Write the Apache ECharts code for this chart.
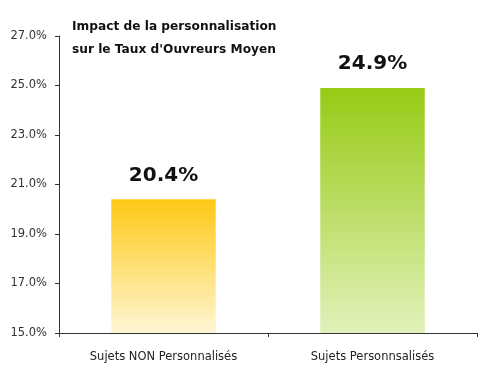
<!DOCTYPE html>
<html>
<head>
<meta charset="utf-8">
<script src="https://cdn.jsdelivr.net/npm/echarts@6/dist/echarts.min.js"></script>
<style>
  html, body { margin: 0; padding: 0; background: #fff; }
  #grafico { width: 498px; height: 376px; }
</style>
</head>
<body>
<div id="grafico"></div>
<script>
var categories = ['Sujets NON Personnalisés', 'Sujets Personnsalisés'];
var taux = [20.4, 24.9];
var topColors = ['#FFC814', '#97CB15'];
var bottomColors = ['#FFF6D6', '#E1F1BA'];

var chartDom = document.getElementById('grafico');
var myChart = echarts.init(chartDom);
var option;

var barData = taux.map(function (v, i) {
  return {
    value: v,
    itemStyle: {
      color: new echarts.graphic.LinearGradient(0, 0, 0, 1, [
        { offset: 0, color: topColors[i] },
        { offset: 1, color: bottomColors[i] }
      ])
    }
  };
});

option = {
  animation: false,
  title: {
    text: 'Impact de la personnalisation\nsur le Taux d\'Ouvreurs Moyen',
    left: 67,
    top: 10,
    textStyle: {
      fontFamily: 'DejaVu Sans',
      fontSize: 12.2,
      fontWeight: 'bold',
      color: '#111',
      lineHeight: 23
    }
  },
  grid: {
    left: 59,
    right: 21,
    top: 36,
    bottom: 43
  },
  xAxis: {
    type: 'category',
    data: categories,
    axisLine: { lineStyle: { color: '#333', width: 1 } },
    axisTick: { show: true, alignWithLabel: false, length: 4, lineStyle: { color: '#333' } },
    axisLabel: {
      margin: 18,
      fontFamily: 'DejaVu Sans',
      fontSize: 11.5,
      color: '#222'
    }
  },
  yAxis: {
    type: 'value',
    min: 15,
    max: 27,
    interval: 2,
    axisLine: { show: true, lineStyle: { color: '#333', width: 1 } },
    axisTick: { show: true, length: 4, lineStyle: { color: '#333' } },
    splitLine: { show: false },
    axisLabel: {
      margin: 12,
      fontFamily: 'DejaVu Sans',
      fontSize: 11.5,
      color: '#333',
      formatter: function (v) { return v.toFixed(1) + '%'; }
    }
  },
  series: [
    {
      type: 'bar',
      barWidth: '50%',
      data: barData,
      label: {
        show: true,
        position: 'top',
        distance: 14,
        fontFamily: 'DejaVu Sans',
        fontSize: 20,
        fontWeight: 'bold',
        color: '#111',
        formatter: function (p) { return p.value.toFixed(1) + '%'; }
      }
    }
  ]
};

option && myChart.setOption(option);
</script>
</body>
</html>
